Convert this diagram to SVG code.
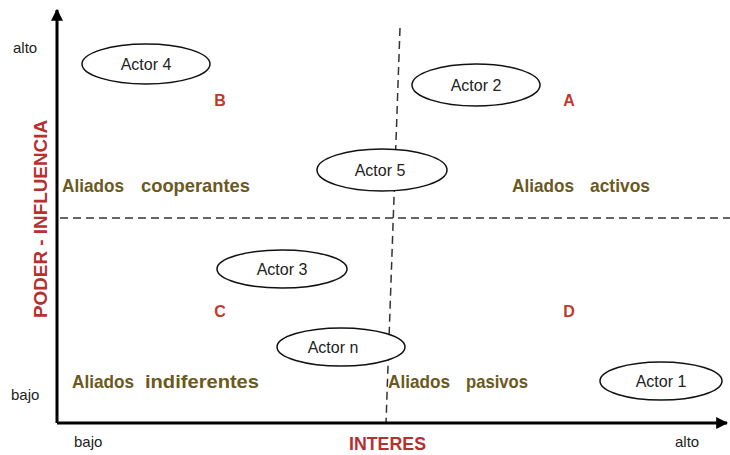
<svg xmlns="http://www.w3.org/2000/svg" width="730" height="455" viewBox="0 0 730 455">
<defs>
<style>
.axis{stroke:#000;stroke-width:3;fill:none}
.dash{stroke:#333;stroke-width:1.5;stroke-dasharray:8,5;fill:none}
.ell{fill:#fff;stroke:#111;stroke-width:1.5}
.lbl{font-family:"Liberation Sans",Arial,sans-serif;font-size:16px;fill:#222;text-anchor:middle}
.tick{font-family:"Liberation Sans",Arial,sans-serif;font-size:15px;fill:#222}
.q{font-family:"Liberation Sans",Arial,sans-serif;font-size:16px;font-weight:bold;fill:#c0392b;text-anchor:middle}
.ax{font-family:"Liberation Sans",Arial,sans-serif;font-size:18px;font-weight:bold;fill:#b5302f}
.al{font-family:"Liberation Sans",Arial,sans-serif;font-size:19px;font-weight:bold;fill:#6b5a1c}
</style>
<marker id="ah" viewBox="0 0 10 10" refX="9" refY="5" markerWidth="4" markerHeight="4" orient="auto">
<path d="M0,0 L10,5 L0,10 z" fill="#000"/>
</marker>
</defs>
<rect width="730" height="455" fill="#fff"/>
<g id="connectors">
<line class="dash" x1="60" y1="218" x2="730" y2="218"/>
<line class="dash" x1="400" y1="28" x2="386" y2="423"/>
<line class="axis" x1="57" y1="423" x2="57" y2="10" marker-end="url(#ah)"/>
<line class="axis" x1="57" y1="423" x2="727" y2="423" marker-end="url(#ah)"/>
</g>
<g id="axis-labels">
<text class="tick" x="13" y="53">alto</text>
<text class="tick" x="11" y="400">bajo</text>
<text class="tick" x="74" y="447">bajo</text>
<text class="tick" x="675" y="447">alto</text>
<text class="ax" x="349" y="450" textLength="77" lengthAdjust="spacingAndGlyphs">INTERES</text>
<text class="ax" transform="translate(47,318) rotate(-90)" textLength="198" lengthAdjust="spacingAndGlyphs">PODER - INFLUENCIA</text>
</g>
<g id="quadrants">
<text class="q" x="220" y="106">B</text>
<text class="q" x="569" y="106">A</text>
<text class="q" x="220" y="317">C</text>
<text class="q" x="569" y="317">D</text>
<text class="al" x="62" y="192" textLength="62" lengthAdjust="spacingAndGlyphs">Aliados</text>
<text class="al" x="141" y="192" textLength="109" lengthAdjust="spacingAndGlyphs">cooperantes</text>
<text class="al" x="512" y="192" textLength="62" lengthAdjust="spacingAndGlyphs">Aliados</text>
<text class="al" x="590" y="192" textLength="60" lengthAdjust="spacingAndGlyphs">activos</text>
<text class="al" x="72" y="388" textLength="62" lengthAdjust="spacingAndGlyphs">Aliados</text>
<text class="al" x="145" y="388" textLength="114" lengthAdjust="spacingAndGlyphs">indiferentes</text>
<text class="al" x="388" y="388" textLength="62" lengthAdjust="spacingAndGlyphs">Aliados</text>
<text class="al" x="466" y="388" textLength="62" lengthAdjust="spacingAndGlyphs">pasivos</text>
</g>
<g id="actor4"><ellipse class="ell" cx="146" cy="64" rx="64" ry="20"/><text class="lbl" x="146" y="70">Actor 4</text></g>
<g id="actor2"><ellipse class="ell" cx="476" cy="85" rx="64" ry="21"/><text class="lbl" x="476" y="91">Actor 2</text></g>
<g id="actor5"><ellipse class="ell" cx="382" cy="170" rx="65" ry="21"/><text class="lbl" x="380" y="176">Actor 5</text></g>
<g id="actor3"><ellipse class="ell" cx="282" cy="269" rx="65" ry="19"/><text class="lbl" x="282" y="275">Actor 3</text></g>
<g id="actorn"><ellipse class="ell" cx="341" cy="347" rx="64" ry="19"/><text class="lbl" x="333" y="353">Actor n</text></g>
<g id="actor1"><ellipse class="ell" cx="661" cy="381" rx="61" ry="19"/><text class="lbl" x="661" y="387">Actor 1</text></g>
</svg>
